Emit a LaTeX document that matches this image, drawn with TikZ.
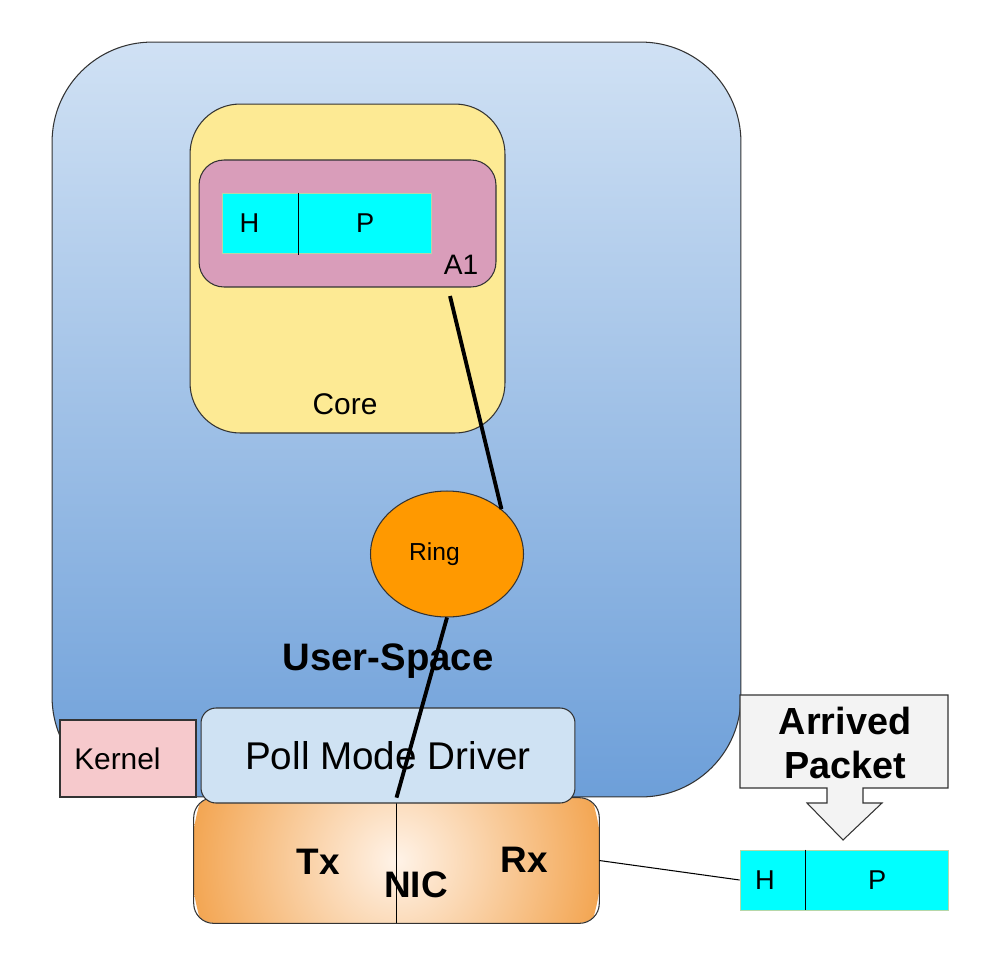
\documentclass[tikz,border=0pt]{standalone}
\usepackage{fontspec}
\setmainfont{Liberation Sans}
\usepackage{tikz}
\usetikzlibrary{shapes.geometric}

\definecolor{userTop}{HTML}{D0E1F4}
\definecolor{userBot}{HTML}{6D9FD9}
\definecolor{coreYellow}{HTML}{FDEA94}
\definecolor{a1Pink}{HTML}{D99DBA}
\definecolor{cellCyan}{HTML}{00FFFF}
\definecolor{cellEdge}{HTML}{B6D7A8}
\definecolor{ringOrange}{HTML}{FF9900}
\definecolor{kernelPink}{HTML}{F6C9CC}
\definecolor{pmdBlue}{HTML}{CFE2F3}
\definecolor{nicIn}{HTML}{FFF3E8}
\definecolor{nicOut}{HTML}{F3A653}
\definecolor{calloutGray}{HTML}{F3F3F3}

\begin{document}
\begin{tikzpicture}[x=0.02cm,y=-0.02cm,
  box/.style={draw=black!80,line width=0.6pt},
  cell/.style={fill=cellCyan,draw=cellEdge,line width=0.4pt,minimum height=1.2cm,inner sep=0pt,font=\fontsize{15.5}{18}\selectfont},
  link/.style={line width=2.2pt},
  big/.style={font=\bfseries\fontsize{21}{24}\selectfont}]
  \useasboundingbox (0,0) rectangle (994,978);
  % user space
  \node[box,rounded corners=2cm,minimum width=13.78cm,minimum height=15.1cm,top color=userTop,bottom color=userBot] (user) at (396.5,419.5) {};
  \node[font=\bfseries\fontsize{21.8}{26}\selectfont] (userlbl) at (388,661) {User-Space};
  % core and A1
  \node[box,rounded corners=1cm,fill=coreYellow,minimum width=6.3cm,minimum height=6.58cm] (core) at (347.5,268.5) {};
  \node[font=\fontsize{17}{20}\selectfont] (corelbl) at (345,404) {Core};
  \node[box,rounded corners=0.5cm,fill=a1Pink,minimum width=5.94cm,minimum height=2.54cm] (a1) at (347.5,223.5) {};
  \node[font=\fontsize{16}{19}\selectfont] (a1lbl) at (461,265) {A1};
  \node[cell,minimum width=1.52cm] (h1) at (260,223) {\hspace*{-0.42cm}H};
  \node[cell,minimum width=2.66cm,anchor=west] (p1) at (h1.east) {P};
  \draw (h1.north east) -- ([yshift=-1pt]h1.south east);
  % ring
  \node[box,ellipse,fill=ringOrange,minimum width=3.06cm,minimum height=2.52cm,font=\fontsize{14}{17}\selectfont] (ring) at (447,554) {\hspace*{-0.5cm}Ring};
  % kernel
  \node[box,fill=kernelPink,minimum width=2.72cm,minimum height=1.54cm,text width=2.15cm,align=left,font=\fontsize{17}{20}\selectfont] (kernel) at (128,758.5) {Kernel};
  % NIC
  \node[rounded corners=0.4cm,minimum width=8.1cm,minimum height=2.5cm,
    path picture={\shade[inner color=nicIn,outer color=nicOut] (path picture bounding box.center) circle (4.1cm);}] (nic) at (396.5,860.5) {};
  \draw[box,rounded corners=0.4cm] (nic.north west) rectangle (nic.south east);
  \draw (nic.north) -- (nic.south);
  \node[big] (tx) at (318,862) {Tx};
  \node[big] (niclbl) at (416,885) {NIC};
  \node[big] (rx) at (524,860) {Rx};
  % poll mode driver
  \node[box,rounded corners=0.3cm,fill=pmdBlue,minimum width=7.48cm,minimum height=1.9cm,font=\fontsize{22}{26}\selectfont] (pmd) at (388,755.5) {Poll Mode Driver};
  % links
  \coordinate (a1out) at (450,296);
  \draw[link] (a1out) -- (ring.north east);
  \draw[link] (ring.south) -- (nic.north);
  % arrived packet
  \node[cell,minimum width=1.3cm] (h2) at (772.5,880) {\hspace*{-0.3cm}H};
  \node[cell,minimum width=2.86cm,anchor=west] (p2) at (h2.east) {P};
  \draw (h2.north east) -- (h2.south east);
  \draw[line width=0.6pt] (nic.east) -- (h2.west);
  \draw[box,fill=calloutGray] (740,695) -- (948,695) -- (948,788) -- (863,788) -- (863,803) -- (882,803)
    -- (843,840) -- (807,803) -- (827,803) -- (827,788) -- (740,788) -- cycle;
  \node[font=\bfseries\fontsize{21.5}{24.5}\selectfont,align=center] (arrived) at (845,743) {Arrived\\Packet};
\end{tikzpicture}
\end{document}
